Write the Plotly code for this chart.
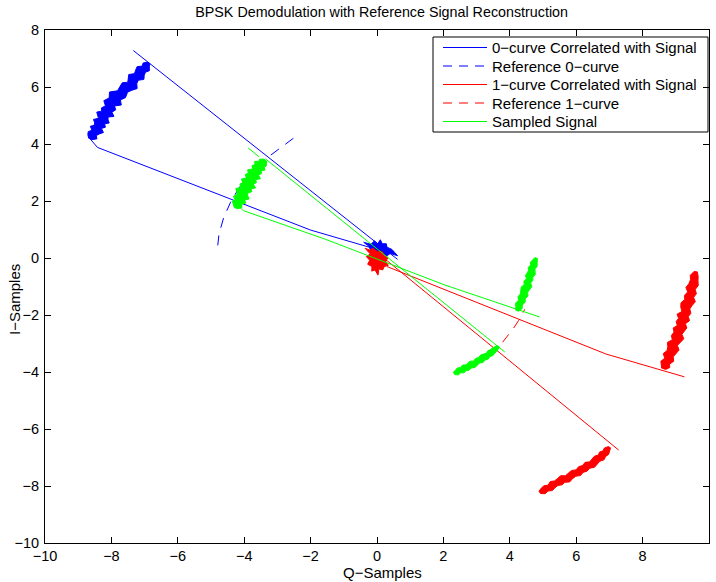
import numpy as np
import plotly.graph_objects as go

BLUE = "rgb(0,0,255)"
RED = "rgb(255,0,0)"
GREEN = "rgb(0,255,0)"
FONT = "Liberation Sans, Arial, Helvetica, sans-serif"

# ---------------- data ----------------
# 0-curve correlated with signal: transition lines
blue_line_x = [0.62, -7.34, None, -8.64, -8.42, -2.0, -0.45, 0.0]
blue_line_y = [-0.05, 7.28, None, 4.18, 3.88, 0.98, 0.46, 0.30]
# noisy strip: centre line + spread on either side
b1_x = [-8.64, -8.55, -8.45, -8.37, -8.29, -8.21, -8.12, -8.02, -7.85, -7.60, -7.42, -7.28, -7.14, -7.00, -6.88]
b1_y = [4.18, 4.35, 4.52, 4.68, 4.85, 5.00, 5.18, 5.40, 5.65, 5.90, 6.10, 6.30, 6.50, 6.68, 6.85]
b1_wl = [0.05, 0.13, 0.17, 0.10, 0.21, 0.12, 0.15, 0.23, 0.11, 0.18, 0.26, 0.14, 0.20, 0.12, 0.24,
         0.16, 0.27, 0.13, 0.19, 0.22, 0.11, 0.18, 0.24, 0.12, 0.16, 0.20, 0.09, 0.13, 0.04]
b1_wr = [0.06, 0.18, 0.11, 0.16, 0.24, 0.12, 0.21, 0.14, 0.25, 0.17, 0.12, 0.27, 0.15, 0.22, 0.13,
         0.28, 0.16, 0.21, 0.12, 0.17, 0.25, 0.14, 0.11, 0.23, 0.16, 0.12, 0.18, 0.10, 0.05]
# cluster near the origin
b0_x = [-0.40, -0.18, -0.08, 0.02, 0.10, 0.16, 0.28, 0.30, 0.45, 0.62, 0.40, 0.30, 0.15, 0.05, -0.05, -0.20, -0.25]
b0_y = [0.55, 0.48, 0.60, 0.50, 0.64, 0.50, 0.50, 0.38, 0.30, 0.08, 0.16, 0.08, 0.15, 0.05, 0.20, 0.30, 0.42]
# reference 0-curve (dashed arc)
ref0_x = [-2.52, -2.97, -3.42, -3.81, -4.14, -4.41, -4.62, -4.76, -4.80]
ref0_y = [4.20, 3.81, 3.42, 2.97, 2.49, 1.96, 1.41, 0.84, 0.40]

# 1-curve correlated with signal
red_line_x = [0.10, 7.28, None, 0.30, 6.90, 9.26]
red_line_y = [0.10, -6.74, None, -0.30, -3.37, -4.17]
r1_x = [8.62, 8.70, 8.80, 8.90, 8.99, 9.07, 9.15, 9.22, 9.28, 9.35, 9.42, 9.49, 9.55, 9.60]
r1_y = [-3.88, -3.68, -3.42, -3.16, -2.90, -2.64, -2.40, -2.15, -1.90, -1.62, -1.35, -1.08, -0.78, -0.48]
r1_wl = [0.05, 0.11, 0.16, 0.09, 0.19, 0.12, 0.15, 0.21, 0.10, 0.17, 0.13, 0.20, 0.11, 0.18,
         0.14, 0.22, 0.10, 0.17, 0.20, 0.12, 0.16, 0.10, 0.19, 0.13, 0.11, 0.14, 0.05]
r1_wr = [0.08, 0.17, 0.12, 0.20, 0.13, 0.18, 0.21, 0.11, 0.16, 0.22, 0.12, 0.15, 0.19, 0.11,
         0.20, 0.13, 0.18, 0.11, 0.15, 0.21, 0.12, 0.17, 0.10, 0.16, 0.12, 0.10, 0.05]
r2_x = [4.90, 5.10, 5.30, 5.50, 5.72, 5.94, 6.15, 6.36, 6.56, 6.74, 6.88, 7.00]
r2_y = [-8.22, -8.10, -7.97, -7.84, -7.72, -7.58, -7.44, -7.30, -7.15, -6.98, -6.82, -6.64]
r2_wl = [0.04, 0.10, 0.13, 0.08, 0.15, 0.10, 0.12, 0.16, 0.09, 0.13, 0.15, 0.09,
         0.14, 0.11, 0.16, 0.09, 0.12, 0.15, 0.10, 0.14, 0.09, 0.11, 0.04]
r2_wr = [0.05, 0.13, 0.09, 0.15, 0.11, 0.09, 0.14, 0.10, 0.16, 0.11, 0.09, 0.15,
         0.10, 0.13, 0.09, 0.15, 0.11, 0.09, 0.14, 0.10, 0.12, 0.08, 0.04]
r0_x = [-0.36, -0.22, -0.12, 0.02, 0.14, 0.22, 0.33, 0.27, 0.34, 0.22, 0.17, 0.06, 0.03, -0.06,
        -0.16, -0.15, -0.28, -0.22, -0.32, -0.20]
r0_y = [0.34, 0.28, 0.34, 0.22, 0.24, 0.10, 0.02, -0.12, -0.26, -0.30, -0.42, -0.38, -0.60, -0.42,
        -0.46, -0.30, -0.22, -0.08, 0.05, 0.14]
# reference 1-curve (dashed arc, mostly hidden under the sampled signal)
ref1_x = [3.39, 3.60, 3.78, 3.95, 4.11, 4.26, 4.39, 4.45]
ref1_y = [-3.39, -3.18, -2.96, -2.72, -2.47, -2.20, -1.95, -1.80]

# sampled signal
green_line_x = [-3.88, -3.55, None, -3.36, 3.85, None, -4.20, -4.02, -1.56, 2.05, 4.90]
green_line_y = [3.86, 3.55, None, 3.48, -3.30, None, 1.85, 1.66, 0.66, -0.95, -2.07]
g1_x = [-4.25, -4.18, -4.12, -4.05, -3.98, -3.90, -3.82, -3.73, -3.64, -3.55, -3.46, -3.38]
g1_y = [1.75, 1.92, 2.08, 2.25, 2.42, 2.58, 2.74, 2.90, 3.06, 3.20, 3.33, 3.44]
g1_wl = [0.05, 0.12, 0.19, 0.13, 0.22, 0.15, 0.18, 0.26, 0.14, 0.21, 0.16, 0.25,
         0.13, 0.22, 0.17, 0.24, 0.12, 0.20, 0.15, 0.22, 0.11, 0.14, 0.05]
g1_wr = [0.06, 0.16, 0.11, 0.21, 0.14, 0.25, 0.17, 0.13, 0.23, 0.16, 0.27, 0.15,
         0.21, 0.14, 0.25, 0.13, 0.19, 0.12, 0.21, 0.13, 0.16, 0.10, 0.06]
g2_x = [4.22, 4.30, 4.38, 4.45, 4.52, 4.58, 4.63, 4.68, 4.73, 4.79]
g2_y = [-1.85, -1.62, -1.40, -1.18, -0.96, -0.75, -0.55, -0.36, -0.18, 0.00]
g2_wl = [0.04, 0.09, 0.13, 0.08, 0.14, 0.10, 0.12, 0.15, 0.09, 0.13,
         0.08, 0.14, 0.11, 0.09, 0.13, 0.08, 0.11, 0.08, 0.04]
g2_wr = [0.05, 0.12, 0.08, 0.13, 0.09, 0.14, 0.09, 0.12, 0.15, 0.08,
         0.12, 0.09, 0.14, 0.10, 0.08, 0.12, 0.08, 0.07, 0.04]
g3_x = [2.32, 2.48, 2.64, 2.80, 2.96, 3.12, 3.28, 3.42, 3.55, 3.66]
g3_y = [-4.05, -3.96, -3.87, -3.79, -3.68, -3.56, -3.45, -3.34, -3.22, -3.10]
g3_wl = [0.04, 0.09, 0.12, 0.08, 0.13, 0.09, 0.11, 0.14, 0.08, 0.12,
         0.09, 0.13, 0.10, 0.08, 0.12, 0.09, 0.10, 0.07, 0.04]
g3_wr = [0.05, 0.11, 0.08, 0.13, 0.09, 0.12, 0.08, 0.13, 0.10, 0.08,
         0.13, 0.09, 0.12, 0.08, 0.11, 0.09, 0.08, 0.07, 0.04]

x_ticks = [-10, -8, -6, -4, -2, 0, 2, 4, 6, 8, 10]
y_ticks = [-10, -8, -6, -4, -2, 0, 2, 4, 6, 8]

legend_names = ["0\u2212curve Correlated with Signal", "Reference 0\u2212curve",
                "1\u2212curve Correlated with Signal", "Reference 1\u2212curve",
                "Sampled Signal"]
legend_colors = [BLUE, BLUE, RED, RED, GREEN]
legend_dashed = [False, True, False, True, False]


def strip(cx, cy, wl, wr):
    """Outline of a noisy band: centre points plus half-step points between them."""
    cx = np.asarray(cx, float)
    cy = np.asarray(cy, float)
    mx = np.empty(2 * len(cx) - 1)
    my = np.empty(2 * len(cy) - 1)
    mx[0::2], my[0::2] = cx, cy
    mx[1::2], my[1::2] = (cx[:-1] + cx[1:]) / 2, (cy[:-1] + cy[1:]) / 2
    tx, ty = np.gradient(mx), np.gradient(my)
    n = np.hypot(tx, ty)
    nx, ny = -ty / n, tx / n
    wl, wr = np.asarray(wl), np.asarray(wr)
    lx, ly = mx + nx * wl, my + ny * wl
    rx, ry = mx - nx * wr, my - ny * wr
    return list(lx) + list(rx[::-1]), list(ly) + list(ry[::-1])


def poly(x, y, color, group):
    x, y = list(x), list(y)
    return go.Scatter(x=x + [x[0]], y=y + [y[0]], mode="lines",
                      fill="toself", fillcolor=color,
                      line=dict(color=color, width=1),
                      showlegend=False, legendgroup=group, hoverinfo="skip")


fig = go.Figure()

# blue
fig.add_trace(go.Scatter(x=blue_line_x, y=blue_line_y, mode="lines",
                         line=dict(color=BLUE, width=1), legendgroup="b",
                         name=legend_names[0], showlegend=False))
fig.add_trace(poly(*strip(b1_x, b1_y, b1_wl, b1_wr), BLUE, "b"))
fig.add_trace(poly(b0_x, b0_y, BLUE, "b"))
fig.add_trace(go.Scatter(x=ref0_x, y=ref0_y, mode="lines", showlegend=False,
                         line=dict(color=BLUE, width=1, dash="10px,8px"),
                         name=legend_names[1]))
# red
fig.add_trace(go.Scatter(x=red_line_x, y=red_line_y, mode="lines",
                         line=dict(color=RED, width=1), legendgroup="r",
                         name=legend_names[2], showlegend=False))
fig.add_trace(poly(*strip(r1_x, r1_y, r1_wl, r1_wr), RED, "r"))
fig.add_trace(poly(*strip(r2_x, r2_y, r2_wl, r2_wr), RED, "r"))
fig.add_trace(poly(r0_x, r0_y, RED, "r"))
fig.add_trace(go.Scatter(x=ref1_x, y=ref1_y, mode="lines", showlegend=False,
                         line=dict(color=RED, width=1, dash="10px,8px"),
                         name=legend_names[3]))
# green
fig.add_trace(go.Scatter(x=green_line_x, y=green_line_y, mode="lines",
                         line=dict(color=GREEN, width=1), legendgroup="g",
                         name=legend_names[4], showlegend=False))
fig.add_trace(poly(*strip(g1_x, g1_y, g1_wl, g1_wr), GREEN, "g"))
fig.add_trace(poly(*strip(g2_x, g2_y, g2_wl, g2_wr), GREEN, "g"))
fig.add_trace(poly(*strip(g3_x, g3_y, g3_wl, g3_wr), GREEN, "g"))

# ---- MATLAB-style legend box (compact rows) and axis titles ----
L_W, L_H = 664.0, 513.0          # plot-area size in px


def px_x(p):
    return (p - 45) / L_W


def px_y(p):
    return 1 - (p - 30) / L_H


# legend swatches drawn on an invisible overlay axis spanning the plot area (0..1)
for i, (name, col, dashed) in enumerate(zip(legend_names, legend_colors, legend_dashed)):
    yy = px_y(47.5 + 18.5 * i)
    ln = dict(color=col, width=1)
    if dashed:
        ln["dash"] = "9px,7px"
    fig.add_trace(go.Scatter(x=[px_x(443), px_x(487)], y=[yy, yy], mode="lines",
                             line=ln, xaxis="x2", yaxis="y2", showlegend=False,
                             hoverinfo="skip", cliponaxis=False))

shapes = [dict(type="rect", xref="paper", yref="paper", layer="below",
               x0=px_x(433), x1=px_x(708), y0=px_y(132), y1=px_y(37),
               fillcolor="white", line=dict(color="black", width=1))]
annotations = []
for i, name in enumerate(legend_names):
    yy = px_y(47.5 + 18.5 * i)
    annotations.append(dict(text=name, xref="paper", yref="paper",
                            x=px_x(490), y=yy, xanchor="left", yanchor="middle",
                            showarrow=False,
                            font=dict(family=FONT, size=15, color="black")))
annotations.append(dict(text="Q\u2212Samples", xref="paper", yref="paper",
                        x=px_x(382.5), y=px_y(572), xanchor="center", yanchor="middle",
                        showarrow=False, font=dict(family=FONT, size=15, color="black")))
annotations.append(dict(text="I\u2212Samples", xref="paper", yref="paper",
                        x=px_x(14), y=px_y(300), xanchor="center", yanchor="middle",
                        textangle=-90, showarrow=False,
                        font=dict(family=FONT, size=15, color="black")))

axis_common = dict(showgrid=False, zeroline=False, showline=True, linecolor="black",
                   linewidth=1, mirror="ticks", ticks="inside", ticklen=6,
                   tickcolor="black", tickwidth=1, automargin=False,
                   tickfont=dict(family=FONT, size=14.5, color="black"))

fig.update_layout(
    width=716, height=582,
    margin=dict(l=45, r=7, t=30, b=39),
    paper_bgcolor="white", plot_bgcolor="white",
    font=dict(family=FONT, size=15, color="black"),
    title=dict(text="BPSK Demodulation with Reference Signal Reconstruction",
               x=0.533, xanchor="center", y=1 - 12 / 582, yanchor="middle",
               font=dict(family=FONT, size=14.3, color="black")),
    xaxis=dict(range=[-10, 10], tickvals=x_ticks, ticklabelstandoff=0, **axis_common),
    yaxis=dict(range=[-10, 8], tickvals=y_ticks, ticklabelstandoff=2, **axis_common),
    xaxis2=dict(overlaying="x", range=[0, 1], visible=False, anchor="y2"),
    yaxis2=dict(overlaying="y", range=[0, 1], visible=False, anchor="x2"),
    shapes=shapes,
    annotations=annotations,
    showlegend=False,
)

fig.write_html("out.html")
